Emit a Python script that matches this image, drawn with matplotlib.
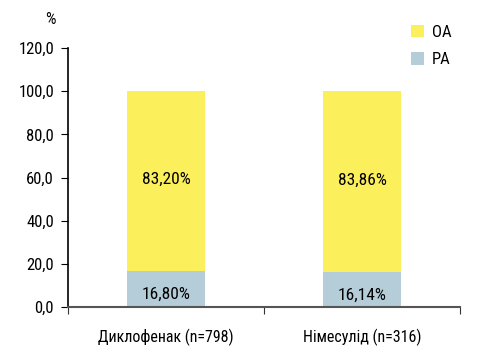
import matplotlib
matplotlib.use('Agg')
import matplotlib.pyplot as plt
from matplotlib import font_manager
import numpy as np

names = set(f.name for f in font_manager.fontManager.ttflist)
narrow = [n for n in ['Roboto Condensed', 'Liberation Sans Narrow', 'DejaVu Sans Condensed']
          if n in names]
plt.rcParams['font.family'] = narrow + ['Liberation Sans', 'DejaVu Sans']

categories = ['Диклофенак (n=798)', 'Німесулід (n=316)']
ra = [16.80, 16.14]
oa = [83.20, 83.86]
ra_labels = ['16,80%', '16,14%']
oa_labels = ['83,20%', '83,86%']
yticks = [0, 20, 40, 60, 80, 100, 120]
ytick_labels = ['0,0', '20,0', '40,0', '60,0', '80,0', '100,0', '120,0']

c_oa = '#fcef5c'
c_ra = '#b5cdd8'

fig = plt.figure(figsize=(4.78, 3.54), dpi=100)
ax = fig.add_axes([68/478, 1 - 307/354, 392/478, 259/354])

x = np.arange(len(categories))
b1 = ax.bar(x, ra, width=0.4, color=c_ra, label='PA')
b2 = ax.bar(x, oa, width=0.4, bottom=ra, color=c_oa, label='OA')

for i in range(len(x)):
    ax.text(x[i], ra[i] / 2 - 2.5, ra_labels[i], ha='center', va='center', fontsize=12.5)
    ax.text(x[i], ra[i] + oa[i] / 2 + 0.8, oa_labels[i], ha='center', va='center', fontsize=12.5)

ax.set_xlim(-0.5, 1.5)
ax.set_ylim(0, 120)
ax.set_yticks(yticks)
ax.set_yticklabels(ytick_labels, fontsize=12)
ax.set_xticks([-0.5, 0.5, 1.5])
ax.set_xticklabels([])
ax.set_xticks(x, minor=True)
ax.set_xticklabels(categories, minor=True, fontsize=11.5)
ax.tick_params(axis='x', which='minor', length=0, pad=16)
ax.tick_params(axis='x', which='major', length=5, color='#333333')
ax.tick_params(axis='y', length=5, pad=5)

for s in ['top', 'right']:
    ax.spines[s].set_visible(False)
ax.spines['bottom'].set_color('#555555')
ax.spines['bottom'].set_linewidth(1.5)
ax.spines['left'].set_linewidth(1.2)

fig.text(50/478, 1 - 19/354, '%', ha='center', va='center', fontsize=12)

handles = [b2, b1]
fig.legend(handles, ['OA', 'PA'], loc='center left', bbox_to_anchor=(396/478, 1 - 46/354),
           frameon=False, fontsize=12, handlelength=0.75, handleheight=0.75,
           labelspacing=0.75, handletextpad=0.5)

fig.savefig('out.png', dpi=100)
